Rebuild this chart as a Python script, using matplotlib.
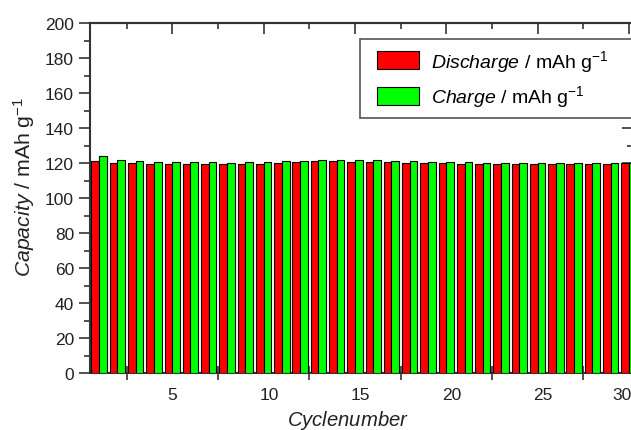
import numpy as np
import matplotlib
matplotlib.use("Agg")
import matplotlib.pyplot as plt
import matplotlib.patches as mpatches
from matplotlib.container import BarContainer
from matplotlib.legend_handler import HandlerPatch, update_from_first_child
from matplotlib.ticker import MultipleLocator, FixedLocator, NullFormatter

plt.rcParams['font.family'] = ['Liberation Sans', 'DejaVu Sans']
plt.rcParams['mathtext.fontset'] = 'custom'
plt.rcParams['mathtext.rm'] = 'Liberation Sans'
plt.rcParams['mathtext.it'] = 'Liberation Sans:italic'

# data
cycles = np.arange(1, 31)
discharge = [121, 120, 119.8, 119.5, 119.5, 119.5, 119.5, 119.5, 119.5, 119.7,
             120, 120.5, 121, 121, 120.8, 120.5, 120.3, 120.2, 120, 119.8,
             119.6, 119.6, 119.5, 119.5, 119.3, 119.3, 119.3, 119.5, 119.6, 119.8]
charge = [124, 121.5, 121, 120.7, 120.5, 120.5, 120.5, 120.2, 120.5, 120.7,
          121, 121, 122, 122, 121.7, 121.5, 121.3, 121, 120.7, 120.5,
          120.3, 120.2, 120, 120, 119.8, 119.8, 119.8, 120, 120, 120.2]
xtick_labels = ['5', '10', '15', '20', '25', '30']
# where the original puts its tick labels (slightly off the bar centres)
xtick_label_pos = [5, 10.3, 15.3, 20.3, 25.3, 29.6]

fig = plt.figure(figsize=(6.31, 4.31), dpi=100)
ax = fig.add_axes([90 / 631, 57 / 431, 543 / 631, 350 / 431])

w = 0.42
ax.bar(cycles - w / 2, discharge, width=w, color='#ff0000', edgecolor='black',
       linewidth=0.8, label=r'$\it{Discharge}$ / mAh g$^{-1}$', zorder=3)
ax.bar(cycles + w / 2, charge, width=w, color='#00ff00', edgecolor='black',
       linewidth=0.8, label=r'$\it{Charge}$ / mAh g$^{-1}$', zorder=3)

ax.set_xlim(0.5, 30.22)
ax.set_ylim(0, 200)

ax.xaxis.set_major_locator(FixedLocator(xtick_label_pos))
ax.set_xticklabels(xtick_labels)
ax.xaxis.set_minor_locator(FixedLocator([2.5, 7.5, 12.5, 17.5, 22.5, 27.5]))
ax.tick_params(axis='x', which='major', length=0, labelsize=12.5, pad=10, colors='#222222')
ax.tick_params(axis='x', which='minor', direction='inout', length=10, width=1.2, color='#333333')

ax.yaxis.set_major_locator(MultipleLocator(20))
ax.yaxis.set_minor_locator(MultipleLocator(10))
ax.tick_params(axis='y', which='major', direction='out', length=8, width=1.2,
               labelsize=12.5, color='#333333', labelcolor='#222222')
ax.tick_params(axis='y', which='minor', direction='out', length=4, width=1.2, color='#333333')

for s in ax.spines.values():
    s.set_linewidth(1.5)
    s.set_color('#333333')

top = ax.secondary_xaxis('top')
top.xaxis.set_major_locator(FixedLocator([5, 10, 15, 20, 25, 30]))
top.xaxis.set_minor_locator(FixedLocator([2.5, 7.5, 12.5, 17.5, 22.5, 27.5]))
top.xaxis.set_major_formatter(NullFormatter())
top.tick_params(which='major', direction='in', length=8, width=1.2, color='#333333')
top.tick_params(which='minor', direction='in', length=4, width=1.2, color='#333333')
top.spines['top'].set_linewidth(1.5)
top.spines['top'].set_color('#333333')

right = ax.secondary_yaxis('right')
right.yaxis.set_major_locator(MultipleLocator(20))
right.yaxis.set_minor_locator(MultipleLocator(10))
right.yaxis.set_major_formatter(NullFormatter())
right.tick_params(which='major', direction='in', length=8, width=1.2, color='#333333')
right.tick_params(which='minor', direction='in', length=4, width=1.2, color='#333333')

ax.set_ylabel(r'$\it{Capacity}$ / mAh g$^{-1}$', fontsize=15.3, color='#222222')
ax.yaxis.set_label_coords(-0.097, 0.534)
ax.set_xlabel(r'$\it{Cyclenumber}$', fontsize=14.6, color='#222222')
ax.xaxis.set_label_coords(0.475, -0.1)


# legend swatch sits a bit further in from the frame than matplotlib's default
def shifted_patch(legend, orig_handle, xdescent, ydescent, width, height, fontsize):
    off = 5.8
    return mpatches.Rectangle((-xdescent + off, -ydescent), width - off, height)


# legend box runs past the right edge of the picture, as in the original
leg = ax.legend(loc='upper left',
                bbox_to_anchor=(360 / 631, 0, 290 / 631, 1 - 40 / 431),
                bbox_transform=fig.transFigure, mode='expand', fontsize=14,
                frameon=True, fancybox=False, edgecolor='#555555', framealpha=1,
                handlelength=2.57, handleheight=1.05, handletextpad=0.65,
                borderpad=0.45, labelspacing=0.5, borderaxespad=0,
                handler_map={BarContainer: HandlerPatch(patch_func=shifted_patch,
                                                        update_func=update_from_first_child)})
leg.get_frame().set_linewidth(1.2)

fig.savefig('out.png', dpi=100)
